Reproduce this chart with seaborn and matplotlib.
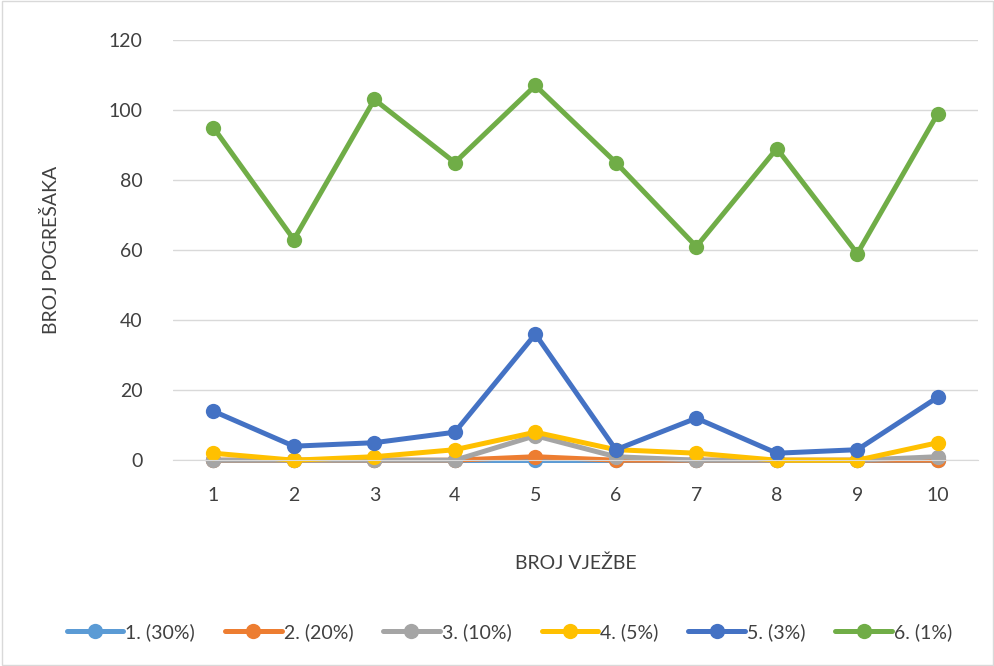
import pandas as pd
import seaborn as sns
import matplotlib.pyplot as plt

vjezbe = list(range(1, 11))
s1 = [0, 0, 0, 0, 0, 0, 0, 0, 0, 0]
s2 = [0, 0, 0, 0, 1, 0, 0, 0, 0, 0]
s3 = [0, 0, 0, 0, 7, 1, 0, 0, 0, 1]
s4 = [2, 0, 1, 3, 8, 3, 2, 0, 0, 5]
s5 = [14, 4, 5, 8, 36, 3, 12, 2, 3, 18]
s6 = [95, 63, 103, 85, 107, 85, 61, 89, 59, 99]
names = ['1. (30%)', '2. (20%)', '3. (10%)', '4. (5%)', '5. (3%)', '6. (1%)']
colors = ['#5B9BD5', '#ED7D31', '#A5A5A5', '#FFC000', '#4472C4', '#70AD47']

rows = []
for name, vals in zip(names, [s1, s2, s3, s4, s5, s6]):
    for x, v in zip(vjezbe, vals):
        rows.append({'vjezba': x, 'greske': v, 'serija': name})
df = pd.DataFrame(rows)

sns.set_style('white')
plt.rcParams['font.family'] = ['Lato', 'DejaVu Sans']

fig = plt.figure(figsize=(9.95, 6.66), dpi=100)
ax = fig.add_axes([0.174, 0.309, 0.809, 0.631])

sns.lineplot(data=df, x='vjezba', y='greske', hue='serija', palette=colors,
             marker='o', markersize=11, markeredgewidth=0, linewidth=3.6,
             ax=ax, legend=False)

ax.set_xlim(0.5, 10.5)
ax.set_ylim(0, 120)
ax.set_yticks(range(0, 121, 20))
ax.set_xticks(vjezbe)
ax.yaxis.grid(True, color='#D9D9D9', linewidth=1)
ax.set_axisbelow(True)
for sp in ['top', 'right', 'left']:
    ax.spines[sp].set_visible(False)
ax.spines['bottom'].set_color('#D9D9D9')
ax.tick_params(axis='both', length=0, labelsize=14, colors='#404040')
ax.tick_params(axis='x', pad=19)
ax.tick_params(axis='y', pad=22)
ax.set_xlabel('BROJ VJEŽBE', fontsize=14, color='#404040', labelpad=37)
ax.set_ylabel('BROJ POGREŠAKA', fontsize=14, color='#404040', labelpad=35)
for ln in ax.lines:
    ln.set_clip_on(False)

handles = [plt.Line2D([], [], color=c, linewidth=3.6, marker='o', markersize=11,
                      markeredgewidth=0) for c in colors]
fig.legend(handles, names, loc='center', bbox_to_anchor=(0.512, 0.051), ncol=6,
           frameon=False, fontsize=14, handlelength=2.9, handletextpad=0.1,
           columnspacing=1.55, labelcolor='#404040')

fig.patches.append(plt.Rectangle((0.002, 0.002), 0.996, 0.996, transform=fig.transFigure,
                                 fill=False, edgecolor='#D9D9D9', linewidth=1))

fig.savefig('out.png', dpi=100)
